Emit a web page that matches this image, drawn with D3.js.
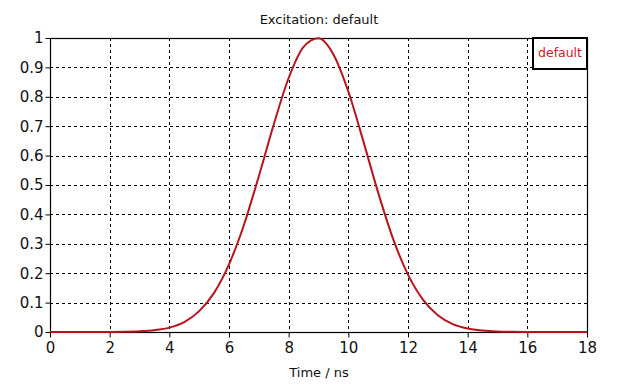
<!DOCTYPE html>
<html>
<head>
<meta charset="utf-8">
<script src="https://cdn.jsdelivr.net/npm/d3@7"></script>
<style>
  html, body { margin: 0; padding: 0; background: #fff; }
  svg { display: block; }
  .tick text { font-family: "DejaVu Sans", Verdana, sans-serif; font-size: 15px; fill: #111; }
</style>
</head>
<body>
<div id="chart"></div>
<script>
// Excitation pulse: time in ns, amplitude 0..1
const times = [0, 1, 2, 2.5, 3, 3.5, 4, 4.5, 5, 5.5, 6, 6.5, 7, 7.5, 8, 8.5, 9,
  9.5, 10, 10.5, 11, 11.5, 12, 12.5, 13, 13.5, 14, 14.5, 15, 15.5, 16, 17, 18];
const amps = [0, 0, 0.0003, 0.0008, 0.0024, 0.0063, 0.015, 0.034, 0.071, 0.133, 0.23, 0.364, 0.53,
  0.706, 0.864, 0.97, 0.999, 0.944, 0.818, 0.65, 0.474, 0.317, 0.195, 0.11, 0.057, 0.027, 0.012,
  0.005, 0.0017, 0.0006, 0.0002, 0, 0];

const xTicks = [0, 2, 4, 6, 8, 10, 12, 14, 16, 18];
const yTicks = [0, 0.1, 0.2, 0.3, 0.4, 0.5, 0.6, 0.7, 0.8, 0.9, 1];

const W = 623, H = 384;
const margin = { top: 38, right: 36, bottom: 52, left: 50 };
const LINE = '#b8141e';
const FONT = '"DejaVu Sans", Verdana, sans-serif';

const svg = d3.select('#chart').append('svg').attr('width', W).attr('height', H);

const x = d3.scaleLinear().domain([0, 18]).range([margin.left, W - margin.right]);
const y = d3.scaleLinear().domain([0, 1]).range([H - margin.bottom, margin.top]);

// dashed grid
const grid = svg.append('g').attr('stroke', '#000').attr('stroke-width', 1)
  .attr('stroke-dasharray', '3,3').attr('shape-rendering', 'crispEdges');
grid.selectAll('line.v').data(xTicks.slice(1, -1)).join('line')
  .attr('x1', (d) => Math.round(x(d)) + 0.5).attr('x2', (d) => Math.round(x(d)) + 0.5)
  .attr('y1', y(1)).attr('y2', y(0));
grid.selectAll('line.h').data(yTicks.slice(1, -1)).join('line')
  .attr('y1', (d) => Math.round(y(d)) + 0.5).attr('y2', (d) => Math.round(y(d)) + 0.5)
  .attr('x1', x(0)).attr('x2', x(18));

// frame
svg.append('rect')
  .attr('x', Math.round(x(0)) + 0.5).attr('y', Math.round(y(1)) + 0.5)
  .attr('width', Math.round(x(18)) - Math.round(x(0)))
  .attr('height', Math.round(y(0)) - Math.round(y(1)))
  .attr('fill', 'none').attr('stroke', '#000').attr('stroke-width', 1.2);

// axes
const gx = svg.append('g').attr('transform', `translate(0,${Math.round(y(0)) + 0.5})`)
  .call(d3.axisBottom(x).tickValues(xTicks).tickSize(5).tickPadding(5).tickFormat(d3.format('d')));
const gy = svg.append('g').attr('transform', `translate(${Math.round(x(0)) + 0.5},0)`)
  .call(d3.axisLeft(y).tickValues(yTicks).tickSize(5).tickPadding(2).tickFormat(d3.format('~g')));
[gx, gy].forEach((g) => {
  g.select('.domain').remove();
  g.selectAll('.tick line').attr('stroke', '#000');
});

// pulse
const pts = times.map((t, i) => [t, amps[i]]);
svg.append('path').datum(pts)
  .attr('fill', 'none').attr('stroke', LINE).attr('stroke-width', 2)
  .attr('d', d3.line().x((d) => x(d[0])).y((d) => y(d[1])).curve(d3.curveMonotoneX));

// title and axis label
svg.append('text').attr('x', 319).attr('y', 24).attr('text-anchor', 'middle')
  .attr('font-family', FONT).attr('font-size', 13)
  .attr('fill', '#111').text('Excitation: default');
svg.append('text').attr('x', 319).attr('y', 377).attr('text-anchor', 'middle')
  .attr('font-family', FONT).attr('font-size', 13)
  .attr('fill', '#111').text('Time / ns');

// legend
const lg = svg.append('g');
lg.append('rect').attr('x', 533).attr('y', 38).attr('width', 54).attr('height', 31)
  .attr('fill', '#fff').attr('stroke', '#000').attr('stroke-width', 2);
lg.append('text').attr('x', 560).attr('y', 57).attr('text-anchor', 'middle')
  .attr('font-family', FONT).attr('font-size', 12.5)
  .attr('fill', '#d0182e').text('default');
</script>
</body>
</html>
